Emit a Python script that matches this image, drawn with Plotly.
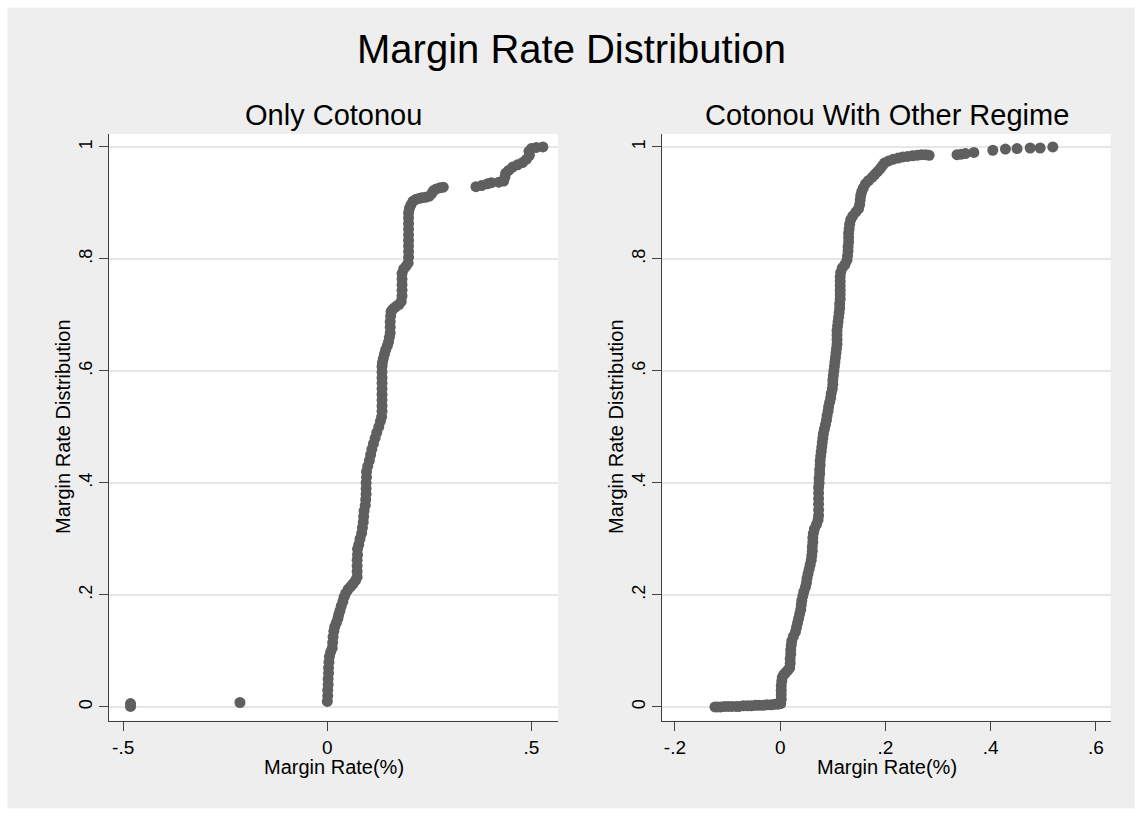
import plotly.graph_objects as go

W, H = 1142, 816

# ---------------- data ----------------
# Panel 1: Only Cotonou  (margin rate, cumulative share)
left_x = [
    -0.482, -0.482, -0.214,
    0.000, 0.001, 0.001, 0.002, 0.002, 0.003, 0.003, 0.004, 0.005, 0.008,
    0.012, 0.013, 0.014, 0.016, 0.018, 0.022, 0.026, 0.028, 0.031, 0.034,
    0.038, 0.041, 0.045, 0.051, 0.057, 0.063, 0.069, 0.073, 0.073, 0.073,
    0.073, 0.074, 0.074, 0.077, 0.080, 0.084, 0.086, 0.088, 0.089, 0.090,
    0.093, 0.094, 0.095, 0.095, 0.095, 0.096, 0.096, 0.099, 0.103, 0.106,
    0.109, 0.113, 0.117, 0.121, 0.126, 0.130, 0.133, 0.134, 0.134, 0.134,
    0.134, 0.134, 0.134, 0.134, 0.134, 0.134, 0.135, 0.137, 0.140, 0.143,
    0.147, 0.150, 0.152, 0.154, 0.154, 0.154, 0.155, 0.156, 0.160, 0.165,
    0.170, 0.176, 0.181, 0.183, 0.183, 0.183, 0.183, 0.183, 0.187, 0.193,
    0.198, 0.199, 0.199, 0.199, 0.199, 0.199, 0.199, 0.199, 0.199, 0.199,
    0.201, 0.205, 0.210, 0.216, 0.224, 0.231, 0.240, 0.250, 0.256, 0.260,
    0.267, 0.276, 0.284,
    0.364, 0.378, 0.392, 0.402, 0.420, 0.432, 0.435, 0.437, 0.444, 0.454,
    0.466, 0.478, 0.488, 0.495, 0.494, 0.500, 0.512, 0.528,
]
left_y = [
    0.001, 0.006, 0.008,
    0.010, 0.020, 0.030, 0.040, 0.050, 0.060, 0.070, 0.080, 0.090, 0.098,
    0.105, 0.115, 0.125, 0.135, 0.143, 0.150, 0.158, 0.165, 0.172, 0.180,
    0.188, 0.196, 0.203, 0.210, 0.215, 0.220, 0.226, 0.232, 0.242, 0.252,
    0.262, 0.272, 0.282, 0.290, 0.300, 0.310, 0.320, 0.330, 0.340, 0.350,
    0.360, 0.370, 0.380, 0.390, 0.400, 0.410, 0.420, 0.430, 0.440, 0.450,
    0.460, 0.470, 0.480, 0.490, 0.500, 0.510, 0.518, 0.528, 0.538, 0.548,
    0.558, 0.568, 0.578, 0.588, 0.598, 0.608, 0.615, 0.622, 0.630, 0.638,
    0.645, 0.652, 0.660, 0.668, 0.678, 0.688, 0.698, 0.706, 0.710, 0.713,
    0.716, 0.719, 0.724, 0.734, 0.744, 0.754, 0.764, 0.774, 0.782, 0.787,
    0.793, 0.803, 0.813, 0.823, 0.833, 0.843, 0.853, 0.863, 0.873, 0.882,
    0.890, 0.897, 0.903, 0.906, 0.908, 0.909, 0.910, 0.912, 0.917, 0.922,
    0.925, 0.927, 0.928,
    0.929, 0.931, 0.934, 0.936, 0.937, 0.939, 0.946, 0.953, 0.958, 0.964,
    0.968, 0.972, 0.978, 0.985, 0.992, 0.997, 0.999, 1.000,
]

# Panel 2: Cotonou With Other Regime
right_x = [
    -0.124, -0.119, -0.113, -0.106, -0.099, -0.092, -0.084, -0.078, -0.070,
    -0.062, -0.055, -0.047, -0.040, -0.032, -0.025, -0.017, -0.010, -0.004,
    0.001, 0.002, 0.002, 0.002, 0.002, 0.003, 0.004, 0.007, 0.011, 0.015,
    0.018, 0.019, 0.019, 0.020, 0.020, 0.021, 0.022, 0.025, 0.029, 0.031,
    0.033, 0.035, 0.037, 0.039, 0.040, 0.041, 0.043, 0.045, 0.048, 0.050,
    0.051, 0.053, 0.055, 0.057, 0.059, 0.060, 0.061, 0.061, 0.062, 0.062,
    0.063, 0.065, 0.069, 0.072, 0.073, 0.073, 0.073, 0.073, 0.073, 0.073,
    0.074, 0.074, 0.075, 0.075, 0.076, 0.076, 0.077, 0.078, 0.079, 0.080,
    0.081, 0.082, 0.084, 0.086, 0.088, 0.089, 0.091, 0.092, 0.094, 0.096,
    0.097, 0.099, 0.100, 0.100, 0.101, 0.102, 0.103, 0.104, 0.105, 0.106,
    0.107, 0.108, 0.108, 0.108, 0.108, 0.109, 0.110, 0.111, 0.112, 0.113,
    0.113, 0.114, 0.114, 0.114, 0.114, 0.114, 0.114, 0.115, 0.118, 0.123,
    0.127, 0.128, 0.129, 0.129, 0.130, 0.130, 0.130, 0.131, 0.132, 0.134,
    0.138, 0.144, 0.149, 0.151, 0.152, 0.153, 0.155, 0.158, 0.162, 0.168,
    0.175, 0.180, 0.185, 0.190, 0.194, 0.198, 0.206, 0.215, 0.224, 0.233,
    0.242, 0.251, 0.260, 0.268, 0.276, 0.283,
    0.336, 0.344, 0.352, 0.368, 0.404, 0.428, 0.450, 0.475, 0.494, 0.518,
]
right_y = [
    0.000, 0.000, 0.000, 0.001, 0.001, 0.001, 0.001, 0.001, 0.002,
    0.002, 0.002, 0.003, 0.003, 0.003, 0.004, 0.004, 0.005, 0.005,
    0.006, 0.014, 0.022, 0.030, 0.038, 0.046, 0.053, 0.058, 0.062, 0.066,
    0.070, 0.078, 0.086, 0.094, 0.102, 0.110, 0.118, 0.126, 0.134, 0.142,
    0.150, 0.158, 0.166, 0.174, 0.182, 0.190, 0.198, 0.206, 0.214, 0.222,
    0.230, 0.238, 0.246, 0.254, 0.262, 0.270, 0.278, 0.286, 0.294, 0.302,
    0.310, 0.318, 0.326, 0.334, 0.342, 0.352, 0.362, 0.372, 0.382, 0.392,
    0.400, 0.408, 0.416, 0.424, 0.432, 0.440, 0.448, 0.456, 0.464, 0.472,
    0.480, 0.488, 0.496, 0.504, 0.512, 0.520, 0.528, 0.536, 0.544, 0.552,
    0.560, 0.568, 0.576, 0.584, 0.592, 0.600, 0.608, 0.616, 0.624, 0.632,
    0.640, 0.648, 0.656, 0.664, 0.672, 0.680, 0.688, 0.696, 0.704, 0.712,
    0.720, 0.728, 0.736, 0.744, 0.752, 0.760, 0.768, 0.776, 0.784, 0.790,
    0.798, 0.806, 0.814, 0.822, 0.830, 0.838, 0.846, 0.854, 0.862, 0.870,
    0.877, 0.884, 0.890, 0.897, 0.905, 0.913, 0.920, 0.927, 0.934, 0.940,
    0.946, 0.951, 0.956, 0.961, 0.966, 0.971, 0.975, 0.978, 0.980, 0.982,
    0.983, 0.984, 0.985, 0.986, 0.986, 0.985,
    0.986, 0.987, 0.988, 0.990, 0.994, 0.996, 0.997, 0.998, 0.998, 1.000,
]

y_tickvals = [0, 0.2, 0.4, 0.6, 0.8, 1.0]
y_ticktext = ["0", ".2", ".4", ".6", ".8", "1"]
left_tickvals = [-0.5, 0, 0.5]
left_ticktext = ["-.5", "0", ".5"]
right_tickvals = [-0.2, 0, 0.2, 0.4, 0.6]
right_ticktext = ["-.2", "0", ".2", ".4", ".6"]

main_title = "Margin Rate Distribution"
panel_titles = ["Only Cotonou", "Cotonou With Other Regime"]
x_title = "Margin Rate(%)"
y_title = "Margin Rate Distribution"

# ---------------- styling ----------------
FONT = "Liberation Sans, Arial, Helvetica, sans-serif"
MARK = "#5f5f5f"
AXC = "#404040"
GRID = "#e6e6e6"


def px(x):
    return x / W


def py(y):
    return 1 - y / H


# plot areas in pixels
L_X0, L_X1 = 109.3, 558.0
R_X0, R_X1 = 662.3, 1110.7
Y_TOP, Y_BOT = 134.0, 720.7

fig = go.Figure()
fig.add_trace(go.Scatter(x=left_x, y=left_y, mode="markers",
                         marker=dict(size=11, color=MARK, line=dict(width=0)),
                         xaxis="x", yaxis="y", showlegend=False, hoverinfo="skip"))
fig.add_trace(go.Scatter(x=right_x, y=right_y, mode="markers",
                         marker=dict(size=11, color=MARK, line=dict(width=0)),
                         xaxis="x2", yaxis="y2", showlegend=False, hoverinfo="skip"))

common_x = dict(showgrid=False, zeroline=False, showline=True, linecolor=AXC, linewidth=1,
                ticks="outside", ticklen=9, tickwidth=1, tickcolor=AXC,
                tickfont=dict(family=FONT, size=19, color="black"), tickmode="array")
common_y = dict(showgrid=True, gridcolor=GRID, gridwidth=1.5, zeroline=False, showline=True,
                linecolor=AXC, linewidth=1, ticks="outside", ticklen=9, tickwidth=1,
                tickcolor=AXC, tickangle=-90, tickmode="array",
                tickvals=y_tickvals, ticktext=y_ticktext, range=[-0.0245, 1.023],
                tickfont=dict(family=FONT, size=18, color="black"))

fig.update_layout(
    width=W, height=H, margin=dict(l=0, r=0, t=0, b=0),
    paper_bgcolor="#eeeeee", plot_bgcolor="white",
    font=dict(family=FONT, color="black"),
    xaxis=dict(common_x, domain=[px(L_X0), px(L_X1)], range=[-0.534, 0.565],
               tickvals=left_tickvals, ticktext=left_ticktext, anchor="y"),
    yaxis=dict(common_y, domain=[py(Y_BOT), py(Y_TOP)], anchor="x"),
    xaxis2=dict(common_x, domain=[px(R_X0), px(R_X1)], range=[-0.224, 0.628],
                tickvals=right_tickvals, ticktext=right_ticktext, anchor="y2"),
    yaxis2=dict(common_y, domain=[py(Y_BOT), py(Y_TOP)], anchor="x2"),
    shapes=[dict(type="rect", xref="paper", yref="paper", x0=0, x1=1, y0=0, y1=1,
                 line=dict(color="white", width=15), fillcolor="rgba(0,0,0,0)", layer="below")],
)

ann = [
    dict(text=main_title, x=px(571), y=py(49), font=dict(size=40)),
    dict(text=panel_titles[0], x=px((L_X0 + L_X1) / 2), y=py(115), font=dict(size=29)),
    dict(text=panel_titles[1], x=px((R_X0 + R_X1) / 2), y=py(115), font=dict(size=29)),
    dict(text=x_title, x=px((L_X0 + L_X1) / 2), y=py(767), font=dict(size=20)),
    dict(text=x_title, x=px((R_X0 + R_X1) / 2), y=py(767), font=dict(size=20)),
    dict(text=y_title, x=px(63), y=py(427), font=dict(size=20), textangle=-90),
    dict(text=y_title, x=px(616), y=py(427), font=dict(size=20), textangle=-90),
]
for a in ann:
    a.update(xref="paper", yref="paper", xanchor="center", yanchor="middle",
             showarrow=False)
    a["font"].update(family=FONT, color="black")
fig.update_layout(annotations=ann)

fig.write_html("out.html")
